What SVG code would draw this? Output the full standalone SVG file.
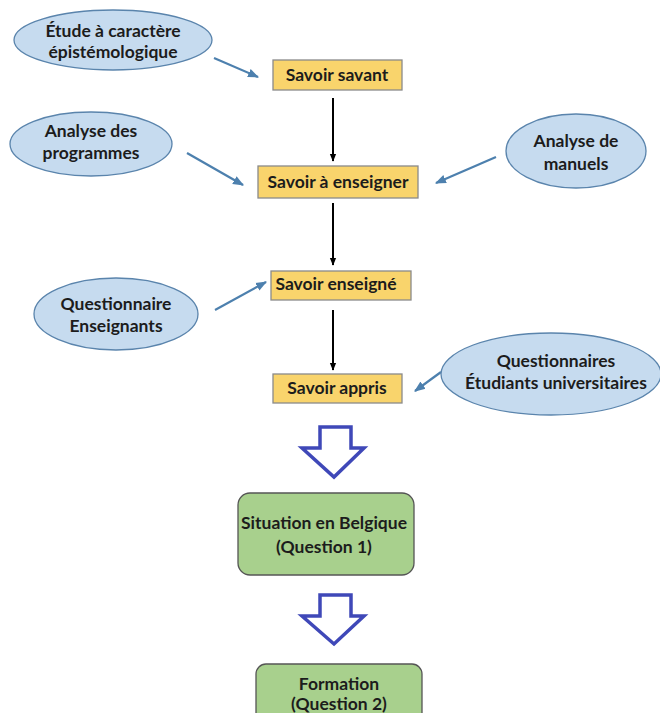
<svg xmlns="http://www.w3.org/2000/svg" width="660" height="713" viewBox="0 0 660 713">
<style>
text{font-family:Lato,"Open Sans","Liberation Sans",sans-serif;font-weight:bold;font-size:17.5px;fill:#1c1c1c;text-anchor:middle}
.ell{fill:#C6DBEF;stroke:#5A84AC;stroke-width:1.3}
.box{fill:#F9D46C;stroke:#8A8A8A;stroke-width:1.3}
.grn{fill:#A8D08D;stroke:#555;stroke-width:1.3}
.blue{stroke:#4D80AE;stroke-width:2.2;fill:none}
.blk{stroke:#000;stroke-width:2;fill:none}
.big{fill:#fff;stroke:#3F48B8;stroke-width:3.5;stroke-linejoin:miter}
</style>
<defs>
<marker id="ab" viewBox="0 0 10 10" refX="9" refY="5" markerWidth="5" markerHeight="5" orient="auto" markerUnits="strokeWidth"><path d="M0,1 L10,5 L0,9 Z" fill="#4D80AE"/></marker>
<marker id="ak" viewBox="0 0 10 10" refX="9" refY="5" markerWidth="4" markerHeight="4" orient="auto" markerUnits="strokeWidth"><path d="M0,1 L10,5 L0,9 Z" fill="#000"/></marker>
</defs>
<rect width="660" height="713" fill="#fff"/>
<g id="connectors">
<line class="blue" x1="214" y1="58" x2="258" y2="77" marker-end="url(#ab)"/>
<line class="blue" x1="187" y1="153" x2="243" y2="185" marker-end="url(#ab)"/>
<line class="blue" x1="496" y1="157" x2="436" y2="183" marker-end="url(#ab)"/>
<line class="blue" x1="215" y1="310" x2="266" y2="282" marker-end="url(#ab)"/>
<line class="blue" x1="441" y1="372" x2="415" y2="391" marker-end="url(#ab)"/>
<line class="blk" x1="333" y1="98" x2="333" y2="161" marker-end="url(#ak)"/>
<line class="blk" x1="333" y1="203" x2="333" y2="265" marker-end="url(#ak)"/>
<line class="blk" x1="333" y1="310" x2="333" y2="370" marker-end="url(#ak)"/>
<path class="big" d="M320,427 L351,427 L351,448 L364,448 L334,477 L302,448 L320,448 Z"/>
<path class="big" d="M320,595 L351,595 L351,616 L364,616 L334,644 L302,616 L320,616 Z"/>
</g>
<g id="n-etude">
<ellipse class="ell" cx="113" cy="40" rx="99" ry="30"/>
<text x="113" y="37">Étude à caractère</text>
<text x="113" y="58">épistémologique</text>
</g>
<g id="n-savant">
<rect class="box" x="273" y="60" width="129" height="30"/>
<text x="337" y="81">Savoir savant</text>
</g>
<g id="n-programmes">
<ellipse class="ell" cx="91" cy="144" rx="81" ry="32"/>
<text x="91" y="137">Analyse des</text>
<text x="91" y="159">programmes</text>
</g>
<g id="n-manuels">
<ellipse class="ell" cx="576" cy="151" rx="70" ry="37"/>
<text x="576" y="147">Analyse de</text>
<text x="576" y="170">manuels</text>
</g>
<g id="n-aenseigner">
<rect class="box" x="258" y="166" width="160" height="32"/>
<text x="338" y="188">Savoir à enseigner</text>
</g>
<g id="n-enseigne">
<rect class="box" x="271" y="271" width="140" height="29"/>
<text x="336" y="290">Savoir enseigné</text>
</g>
<g id="n-qens">
<ellipse class="ell" cx="116" cy="314" rx="82" ry="36"/>
<text x="116" y="310">Questionnaire</text>
<text x="116" y="332">Enseignants</text>
</g>
<g id="n-appris">
<rect class="box" x="273" y="374" width="129" height="29"/>
<text x="337" y="394">Savoir appris</text>
</g>
<g id="n-qetu">
<ellipse class="ell" cx="551" cy="374" rx="110" ry="41"/>
<text x="556" y="367">Questionnaires</text>
<text x="556" y="389">Étudiants universitaires</text>
</g>
<g id="n-belgique">
<rect class="grn" x="238" y="493" width="176" height="82" rx="12"/>
<text x="324" y="529">Situation en Belgique</text>
<text x="324" y="553">(Question 1)</text>
</g>
<g id="n-formation">
<rect class="grn" x="256" y="664" width="166" height="60" rx="10"/>
<text x="339" y="690">Formation</text>
<text x="339" y="710">(Question 2)</text>
</g>
</svg>
